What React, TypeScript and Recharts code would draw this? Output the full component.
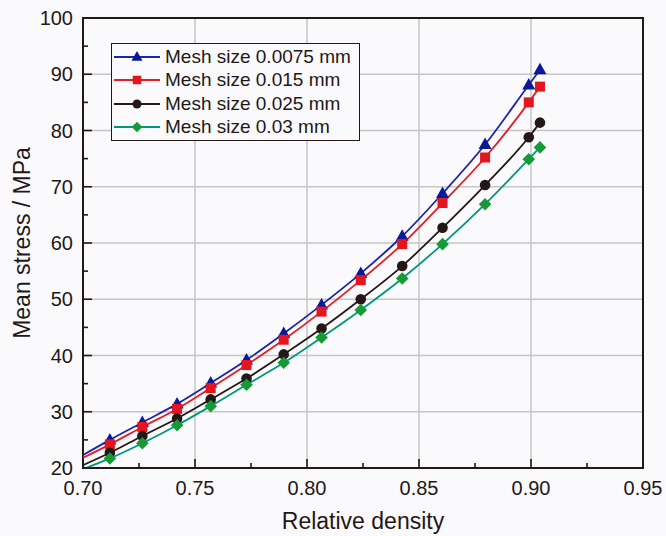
import {
  CartesianGrid,
  ComposedChart,
  Label,
  Legend,
  Line,
  ReferenceArea,
  XAxis,
  YAxis,
} from "recharts";

const INK = "#231815";
const GRID = "#c6c6c6";
const BG = "#fafafd";
const FONT = '"Liberation Sans", Arial, sans-serif';

// relative density at each compaction step (same for every mesh)
const DENSITY = [0.712, 0.7265, 0.742, 0.757, 0.773, 0.7896, 0.8065, 0.824, 0.8425, 0.8605, 0.8795, 0.899, 0.904];
const STRESS_0075 = [25.0, 28.1, 31.4, 35.1, 39.2, 43.9, 49.0, 54.6, 61.2, 68.8, 77.5, 88.1, 90.8];
const STRESS_015 = [24.2, 27.3, 30.5, 34.2, 38.3, 42.8, 47.8, 53.4, 59.8, 67.1, 75.2, 85.0, 87.8];
const STRESS_025 = [22.7, 25.7, 28.8, 32.2, 35.9, 40.2, 44.8, 50.0, 55.9, 62.7, 70.3, 78.8, 81.4];
const STRESS_03 = [21.7, 24.4, 27.6, 31.0, 34.8, 38.7, 43.2, 48.1, 53.7, 59.8, 66.9, 74.9, 77.0];

// where each fitted curve enters the frame (no marker there)
const START_DENSITY = 0.7;
const START_STRESS = [22.3, 21.8, 20.5, 19.8];

const X_TICKS = [0.7, 0.725, 0.75, 0.775, 0.8, 0.825, 0.85, 0.875, 0.9, 0.925, 0.95];
const Y_TICKS = [20, 25, 30, 35, 40, 45, 50, 55, 60, 65, 70, 75, 80, 85, 90, 95, 100];
const X_GRID = [0.75, 0.8, 0.85, 0.9];
const Y_GRID = [30, 40, 50, 60, 70, 80, 90];

type Shape = "triangle" | "square" | "circle" | "diamond";

const SERIES: { name: string; values: number[]; line: string; marker: string; shape: Shape }[] = [
  { name: "Mesh size 0.0075 mm", values: STRESS_0075, line: "#1d24a8", marker: "#0a189c", shape: "triangle" },
  { name: "Mesh size 0.015 mm", values: STRESS_015, line: "#e31e24", marker: "#e3161e", shape: "square" },
  { name: "Mesh size 0.025 mm", values: STRESS_025, line: INK, marker: INK, shape: "circle" },
  { name: "Mesh size 0.03 mm", values: STRESS_03, line: "#00977a", marker: "#169a35", shape: "diamond" },
];

function Marker({ cx, cy, shape, color, s = 1 }: { cx: number; cy: number; shape: Shape; color: string; s?: number }) {
  if (shape === "triangle") {
    const w = 6.5 * s;
    return <polygon points={`${cx},${cy - 7 * s} ${cx - w},${cy + 4.5 * s} ${cx + w},${cy + 4.5 * s}`} fill={color} />;
  }
  if (shape === "square") {
    const h = 5 * s;
    return <rect x={cx - h} y={cy - h} width={2 * h} height={2 * h} fill={color} />;
  }
  if (shape === "circle") return <circle cx={cx} cy={cy} r={5.3 * s} fill={color} />;
  const d = 6.3 * s;
  return <polygon points={`${cx},${cy - d} ${cx + d},${cy} ${cx},${cy + d} ${cx - d},${cy}`} fill={color} />;
}

function XTick({ x, y, payload }: any) {
  const v = payload.value as number;
  const major = Math.round(v * 1000) % 50 === 0;
  return (
    <g>
      <line x1={x} x2={x} y1={y} y2={y - (major ? 9 : 5)} stroke={INK} strokeWidth={1.6} />
      {major && (
        <text x={x} y={y + 27} textAnchor="middle" fontSize={20} fontFamily={FONT} fill={INK}>
          {v.toFixed(2)}
        </text>
      )}
    </g>
  );
}

function YTick({ x, y, payload }: any) {
  const v = payload.value as number;
  const major = v % 10 === 0;
  return (
    <g>
      <line x1={x} x2={x + (major ? 9 : 5)} y1={y} y2={y} stroke={INK} strokeWidth={1.6} />
      {major && (
        <text x={x - 10} y={y + 7} textAnchor="end" fontSize={20} fontFamily={FONT} fill={INK}>
          {v}
        </text>
      )}
    </g>
  );
}

function YTitle({ viewBox }: any) {
  const cy = viewBox.y + viewBox.height / 2;
  return (
    <text x={30} y={cy} transform={`rotate(-90, 30, ${cy})`} textAnchor="middle" fontSize={23} fontFamily={FONT} fill={INK}>
      Mean stress / MPa
    </text>
  );
}

function LegendBox() {
  return (
    <div style={{ border: `1.5px solid ${INK}`, background: BG, padding: "1px 8px 1px 1px" }}>
      {SERIES.map((s) => (
        <div key={s.name} style={{ display: "flex", alignItems: "center", height: 23.5 }}>
          <svg width={48} height={20} style={{ flex: "none" }}>
            <line x1={1} x2={47} y1={10} y2={10} stroke={s.line} strokeWidth={1.8} />
            <Marker cx={24} cy={10} shape={s.shape} color={s.marker} s={0.85} />
          </svg>
          <span style={{ fontFamily: FONT, fontSize: 19, color: INK, marginLeft: 4, whiteSpace: "nowrap" }}>{s.name}</span>
        </div>
      ))}
    </div>
  );
}

export default function App() {
  return (
    <div style={{ position: "fixed", left: 0, top: 0, width: 666, height: 536, background: BG }}>
      <ComposedChart width={666} height={536} margin={{ top: 18, right: 23, bottom: 0, left: 0 }}>
        <CartesianGrid
          verticalValues={X_GRID}
          horizontalValues={Y_GRID}
          stroke={GRID}
          strokeWidth={1.5}
        />
        <XAxis
          type="number"
          dataKey="x"
          domain={[0.7, 0.95]}
          ticks={X_TICKS}
          interval={0}
          allowDataOverflow
          height={68}
          tickSize={0}
          tickMargin={0}
          tickLine={false}
          axisLine={false}
          tick={<XTick />}
        >
          <Label
            value="Relative density"
            position="insideBottom"
            offset={7}
            style={{ fontSize: 23, fontFamily: FONT, fill: INK }}
          />
        </XAxis>
        <YAxis
          type="number"
          domain={[20, 100]}
          ticks={Y_TICKS}
          interval={0}
          allowDataOverflow
          width={83}
          tickSize={0}
          tickMargin={0}
          tickLine={false}
          axisLine={false}
          tick={<YTick />}
        >
          <Label content={<YTitle />} />
        </YAxis>
        {SERIES.map((s, si) => {
          const data = [
            { x: START_DENSITY, y: START_STRESS[si], start: true },
            ...DENSITY.map((d, i) => ({ x: d, y: s.values[i], start: false })),
          ];
          return (
            <Line
              key={s.name}
              data={data}
              dataKey="y"
              name={s.name}
              type="monotone"
              stroke={s.line}
              strokeWidth={1.8}
              isAnimationActive={false}
              dot={(p: any) =>
                p.payload.start ? (
                  <g key={`${si}-${p.index}`} />
                ) : (
                  <Marker key={`${si}-${p.index}`} cx={p.cx} cy={p.cy} shape={s.shape} color={s.marker} />
                )
              }
              activeDot={false}
            />
          );
        })}
        <ReferenceArea
          x1={0.7}
          x2={0.95}
          y1={20}
          y2={100}
          fill="none"
          stroke={INK}
          strokeWidth={2}
          ifOverflow="visible"
        />
        <Legend
          layout="vertical"
          align="center"
          verticalAlign="middle"
          content={<LegendBox />}
          wrapperStyle={{ left: 111, top: 43, width: "auto", height: "auto" }}
        />
      </ComposedChart>
    </div>
  );
}
